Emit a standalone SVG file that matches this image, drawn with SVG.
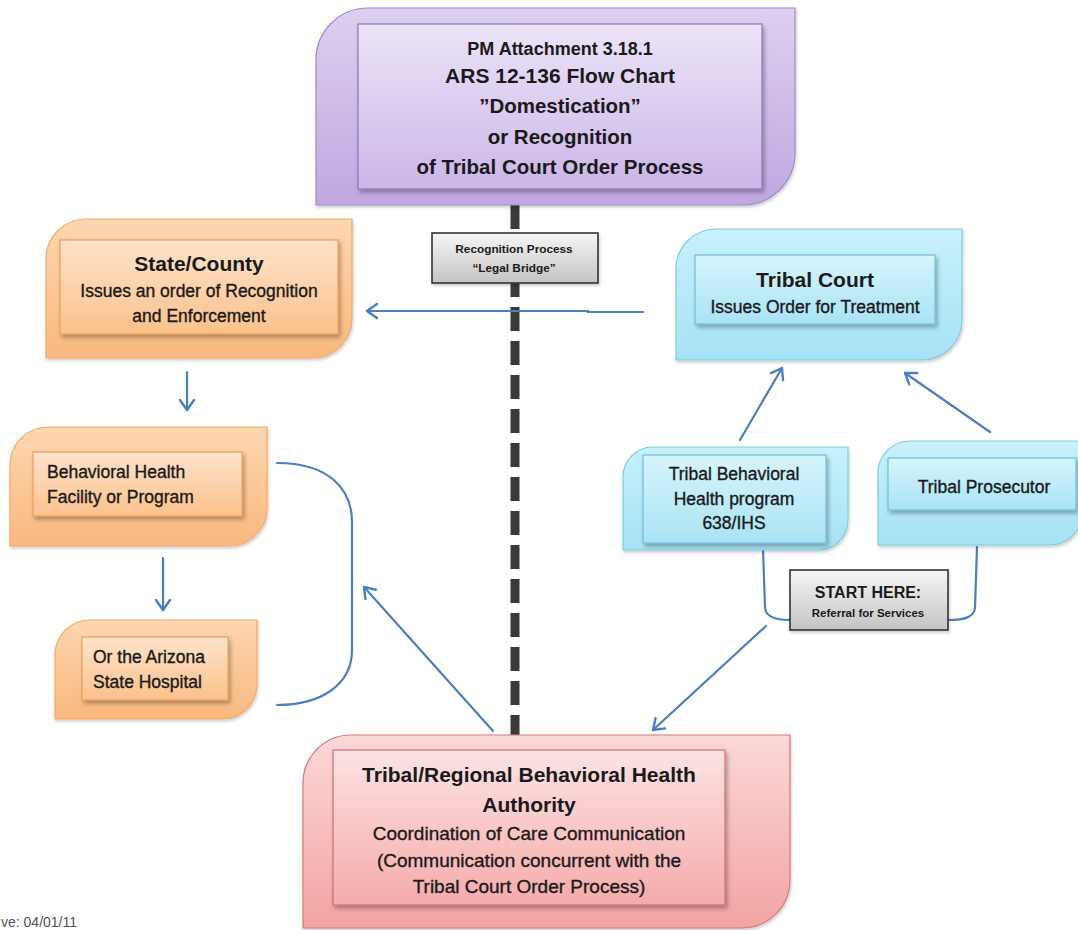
<svg xmlns="http://www.w3.org/2000/svg" width="1078" height="930" viewBox="0 0 1078 930">
<style>
  .t { font-family: "Liberation Sans", Arial, sans-serif; fill: #1a1a1a; text-anchor: middle; }
  .b { font-weight: bold; }
  .m { stroke: #1a1a1a; stroke-width: 0.35; }
  .l { text-anchor: start; }
  .conn { fill: none; stroke: #4a7fc1; stroke-width: 2.2; stroke-linecap: round; }
  .arr { marker-end: url(#ah); }
</style>
<defs>
  <marker id="ah" markerUnits="userSpaceOnUse" markerWidth="24" markerHeight="24" refX="12" refY="12" orient="auto" viewBox="0 0 24 24">
    <path d="M2,5 L12,12 L2,19" fill="none" stroke="#4a7fc1" stroke-width="2.4" stroke-linecap="round" stroke-linejoin="round"/>
  </marker>
  <filter id="sh" x="-10%" y="-10%" width="130%" height="140%">
    <feDropShadow dx="2" dy="3" stdDeviation="2" flood-color="#000" flood-opacity="0.3"/>
  </filter>
  <filter id="sh2" x="-10%" y="-10%" width="130%" height="140%">
    <feDropShadow dx="1" dy="2" stdDeviation="1.5" flood-color="#000" flood-opacity="0.2"/>
  </filter>
  <linearGradient id="pO" x1="0" y1="0" x2="0" y2="1"><stop offset="0" stop-color="#ddd0f0"/><stop offset="1" stop-color="#c0a7e1"/></linearGradient>
  <linearGradient id="pI" x1="0" y1="0" x2="0" y2="1"><stop offset="0" stop-color="#ece4f8"/><stop offset="1" stop-color="#cbb6e8"/></linearGradient>
  <linearGradient id="oO" x1="0" y1="0" x2="0" y2="1"><stop offset="0" stop-color="#fdd7b0"/><stop offset="1" stop-color="#f9b87e"/></linearGradient>
  <linearGradient id="oI" x1="0" y1="0" x2="0" y2="1"><stop offset="0" stop-color="#fee3c9"/><stop offset="1" stop-color="#fbc18c"/></linearGradient>
  <linearGradient id="bO" x1="0" y1="0" x2="0" y2="1"><stop offset="0" stop-color="#c8f1fb"/><stop offset="1" stop-color="#a6e2f5"/></linearGradient>
  <linearGradient id="bI" x1="0" y1="0" x2="0" y2="1"><stop offset="0" stop-color="#d6f5fd"/><stop offset="1" stop-color="#a9e3f5"/></linearGradient>
  <linearGradient id="rO" x1="0" y1="0" x2="0" y2="1"><stop offset="0" stop-color="#fbd8d8"/><stop offset="1" stop-color="#f3a3a3"/></linearGradient>
  <linearGradient id="rI" x1="0" y1="0" x2="0" y2="1"><stop offset="0" stop-color="#fde3e3"/><stop offset="1" stop-color="#f5abab"/></linearGradient>
  <linearGradient id="gB" x1="0" y1="0" x2="0" y2="1"><stop offset="0" stop-color="#f6f6f6"/><stop offset="1" stop-color="#c4c4c4"/></linearGradient>
</defs>

<rect x="0" y="0" width="1078" height="930" fill="#ffffff"/>

<g id="divider">
  <line x1="515" y1="205" x2="515" y2="737" stroke="#3a3a3a" stroke-width="9" stroke-dasharray="24 10"/>
</g>

<g id="connectors">
  <path class="conn arr" d="M643,312 L588,312 L588,311 L367,311"/>
  <path class="conn arr" d="M187,372 L187,410"/>
  <path class="conn arr" d="M163,558 L163,610"/>
  <path class="conn" d="M277,463 C330,463 352,490 352,522 L352,650 C352,684 322,705 277,705"/>
  <path class="conn arr" d="M493,731 L364,587"/>
  <path class="conn arr" d="M740,440 L782,368"/>
  <path class="conn arr" d="M990,432 L905,373"/>
  <path class="conn" d="M763,547 L765,608 C766,617 775,620 790,620"/>
  <path class="conn" d="M977,547 L975,608 C974,617 965,620 948,620"/>
  <path class="conn arr" d="M766,626 L653,730"/>
</g>

<g id="title">
  <path d="M368,8 H795 V153 A52,52 0 0 1 743,205 H316 V60 A52,52 0 0 1 368,8 Z" fill="url(#pO)" stroke="#a08bcb" stroke-width="1.2" filter="url(#sh2)"/>
  <rect x="358" y="24" width="404" height="165" fill="url(#pI)" stroke="#8b76b8" stroke-width="1.2" filter="url(#sh)"/>
  <text class="t b" x="560" y="55" font-size="18">PM Attachment 3.18.1</text>
  <text class="t b" x="560" y="83" font-size="21">ARS 12-136 Flow Chart</text>
  <text class="t b" x="560" y="113" font-size="20.5">”Domestication”</text>
  <text class="t b" x="560" y="144" font-size="20.5">or Recognition</text>
  <text class="t b" x="560" y="174" font-size="20.5">of Tribal Court Order Process</text>
</g>

<g id="recognition-process">
  <rect x="432" y="233" width="166" height="50" fill="url(#gB)" stroke="#333" stroke-width="1.6" filter="url(#sh2)"/>
  <text class="t b" x="514" y="253" font-size="11.8" fill="#333">Recognition Process</text>
  <text class="t b" x="514" y="272" font-size="11.8" fill="#333">“Legal Bridge”</text>
</g>

<g id="state-county">
  <path d="M86,219 H352 V318 A40,40 0 0 1 312,358 H46 V259 A40,40 0 0 1 86,219 Z" fill="url(#oO)" stroke="#f2aa6a" stroke-width="1.2" filter="url(#sh2)"/>
  <rect x="60" y="240" width="278" height="94" fill="url(#oI)" stroke="#ea9e5c" stroke-width="1.2" filter="url(#sh)"/>
  <text class="t b" x="199" y="271" font-size="21">State/County</text>
  <text class="t m" x="199" y="297" font-size="17.5">Issues an order of Recognition</text>
  <text class="t m" x="199" y="322" font-size="17.5">and Enforcement</text>
</g>

<g id="tribal-court">
  <path d="M716,229 H962 V320 A40,40 0 0 1 922,360 H676 V269 A40,40 0 0 1 716,229 Z" fill="url(#bO)" stroke="#80cbe3" stroke-width="1.2" filter="url(#sh2)"/>
  <rect x="695" y="255" width="240" height="69" fill="url(#bI)" stroke="#6fbfd9" stroke-width="1.2" filter="url(#sh)"/>
  <text class="t b" x="815" y="287" font-size="21">Tribal Court</text>
  <text class="t m" x="815" y="313" font-size="17.5">Issues Order for Treatment</text>
</g>

<g id="bh-facility">
  <path d="M48,427 H267 V508 A38,38 0 0 1 229,546 H10 V465 A38,38 0 0 1 48,427 Z" fill="url(#oO)" stroke="#f2aa6a" stroke-width="1.2" filter="url(#sh2)"/>
  <rect x="33" y="452" width="209" height="64" fill="url(#oI)" stroke="#ea9e5c" stroke-width="1.2" filter="url(#sh)"/>
  <text class="t m l" x="47" y="478" font-size="17.5">Behavioral Health</text>
  <text class="t m l" x="47" y="503" font-size="17.5">Facility or Program</text>
</g>

<g id="az-hospital">
  <path d="M90,620 H257 V684 A35,35 0 0 1 222,719 H55 V655 A35,35 0 0 1 90,620 Z" fill="url(#oO)" stroke="#f2aa6a" stroke-width="1.2" filter="url(#sh2)"/>
  <rect x="82" y="637" width="146" height="63" fill="url(#oI)" stroke="#ea9e5c" stroke-width="1.2" filter="url(#sh)"/>
  <text class="t m l" x="93" y="663" font-size="17.5">Or the Arizona</text>
  <text class="t m l" x="93" y="688" font-size="17.5">State Hospital</text>
</g>

<g id="tribal-bh-program">
  <path d="M653,447 H848 V520 A30,30 0 0 1 818,550 H623 V477 A30,30 0 0 1 653,447 Z" fill="url(#bO)" stroke="#80cbe3" stroke-width="1.2" filter="url(#sh2)"/>
  <rect x="643" y="455" width="183" height="88" fill="url(#bI)" stroke="#6fbfd9" stroke-width="1.2" filter="url(#sh)"/>
  <text class="t m" x="734" y="480" font-size="17.5">Tribal Behavioral</text>
  <text class="t m" x="734" y="505" font-size="17.5">Health program</text>
  <text class="t m" x="734" y="529" font-size="17.5">638/IHS</text>
</g>

<g id="tribal-prosecutor">
  <path d="M910,441 H1082 V513 A32,32 0 0 1 1050,545 H878 V473 A32,32 0 0 1 910,441 Z" fill="url(#bO)" stroke="#80cbe3" stroke-width="1.2" filter="url(#sh2)"/>
  <rect x="888" y="458" width="188" height="52" fill="url(#bI)" stroke="#6fbfd9" stroke-width="1.2" filter="url(#sh)"/>
  <text class="t m" x="984" y="493" font-size="17.5">Tribal Prosecutor</text>
</g>

<g id="start-here">
  <rect x="790" y="570" width="158" height="60" fill="url(#gB)" stroke="#333" stroke-width="1.6" filter="url(#sh2)"/>
  <text class="t b" x="868" y="598" font-size="16">START HERE:</text>
  <text class="t b" x="868" y="617" font-size="11.5">Referral for Services</text>
</g>

<g id="authority">
  <path d="M351,735 H790 V880 A48,48 0 0 1 742,928 H303 V783 A48,48 0 0 1 351,735 Z" fill="url(#rO)" stroke="#d77a7a" stroke-width="1.2" filter="url(#sh2)"/>
  <rect x="333" y="750" width="392" height="155" fill="url(#rI)" stroke="#d06f6f" stroke-width="1.2" filter="url(#sh)"/>
  <text class="t b" x="529" y="782" font-size="21">Tribal/Regional Behavioral Health</text>
  <text class="t b" x="529" y="812" font-size="21">Authority</text>
  <text class="t m" x="529" y="840" font-size="19">Coordination of Care Communication</text>
  <text class="t m" x="529" y="867" font-size="19">(Communication concurrent with the</text>
  <text class="t m" x="529" y="893" font-size="19">Tribal Court Order Process)</text>
</g>

<g id="footer">
  <text x="1" y="927" font-family="Liberation Sans, Arial, sans-serif" font-size="14" fill="#555">ve: 04/01/11</text>
</g>
</svg>
